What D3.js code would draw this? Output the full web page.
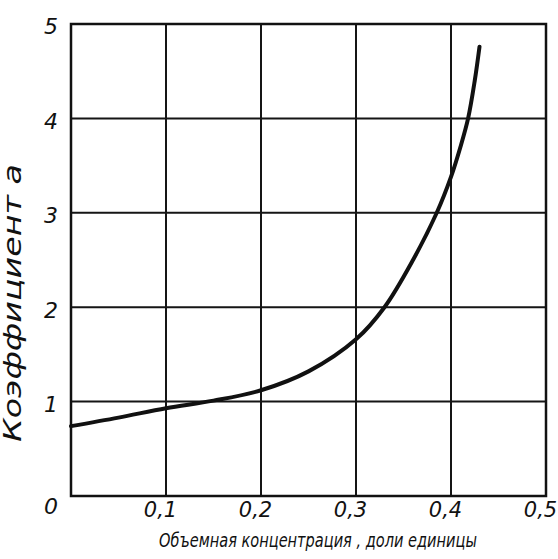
<!DOCTYPE html>
<html>
<head>
<meta charset="utf-8">
<script src="https://cdn.jsdelivr.net/npm/d3@7"></script>
<style>
  body { margin: 0; background: #fff; }
  text { font-family: "DejaVu Sans", sans-serif; font-style: italic; fill: #111; }
</style>
</head>
<body>
<div id="chart"></div>
<script>
// donnees
const conc = [0, 0.05, 0.1, 0.15, 0.2, 0.25, 0.3, 0.33, 0.36, 0.385, 0.4, 0.41, 0.418, 0.425, 0.43];
const coef = [0.74, 0.83, 0.93, 1.01, 1.12, 1.32, 1.66, 2.0, 2.5, 3.0, 3.38, 3.7, 4.0, 4.4, 4.76];
const xTicks = [0.1, 0.2, 0.3, 0.4, 0.5];
const yTicks = [0, 1, 2, 3, 4, 5];

const W = 558, H = 559;
const margin = {top: 24, right: 12, bottom: 63, left: 71};
const width = W - margin.left - margin.right;
const height = H - margin.top - margin.bottom;

const svg = d3.select("#chart").append("svg")
    .attr("width", W).attr("height", H)
  .append("g")
    .attr("transform", `translate(${margin.left},${margin.top})`);

const x = d3.scaleLinear().domain([0, 0.5]).range([0, width]);
const y = d3.scaleLinear().domain([0, 5]).range([height, 0]);

// grille
svg.append("g").selectAll("line")
  .data(xTicks.slice(0, -1))
  .join("line")
    .attr("x1", d => x(d)).attr("x2", d => x(d))
    .attr("y1", 0).attr("y2", height)
    .attr("stroke", "#151515").attr("stroke-width", 2);

svg.append("g").selectAll("line")
  .data(yTicks.slice(1, -1))
  .join("line")
    .attr("x1", 0).attr("x2", width)
    .attr("y1", d => y(d)).attr("y2", d => y(d))
    .attr("stroke", "#151515").attr("stroke-width", 2);

// cadre
svg.append("rect")
    .attr("width", width).attr("height", height)
    .attr("fill", "none").attr("stroke", "#111").attr("stroke-width", 2.5);

// axe x
const xAxis = svg.append("g")
    .attr("transform", `translate(0,${height})`)
    .call(d3.axisBottom(x).tickValues(xTicks).tickSize(0).tickFormat(d => String(d).replace(".", ",")));
xAxis.select(".domain").remove();
xAxis.selectAll("text")
    .attr("font-size", 21).attr("dx", -6).attr("y", 6);

// axe y
const yAxis = svg.append("g")
    .call(d3.axisLeft(y).tickValues(yTicks).tickSize(0).tickFormat(d3.format("d")));
yAxis.select(".domain").remove();
yAxis.selectAll("text")
    .attr("font-size", 22).attr("x", -13)
    .attr("dy", d => d === 0 ? "0.8em" : "0.45em");

// courbe
const line = d3.line()
    .x((d, i) => x(conc[i]))
    .y(d => y(d))
    .curve(d3.curveCatmullRom.alpha(0.5));

svg.append("path")
    .datum(coef)
    .attr("d", line)
    .attr("fill", "none")
    .attr("stroke", "#111")
    .attr("stroke-width", 4)
    .attr("stroke-linecap", "round");

// titres (police etroite simulee par une echelle horizontale)
const xTitle = svg.append("text")
    .attr("text-anchor", "middle")
    .attr("font-size", 20)
    .text("Объемная концентрация , доли единицы");
const kx = 318 / xTitle.node().getComputedTextLength();
xTitle.attr("transform", `translate(247,${height + 51}) scale(${kx},1)`);

const yTitle = svg.append("text")
    .attr("text-anchor", "middle")
    .attr("font-size", 24)
    .text("Коэффициент a");
const ky = 278 / yTitle.node().getComputedTextLength();
yTitle.attr("transform", `translate(-50,${303 - margin.top}) rotate(-90) scale(${ky},1)`);
</script>
</body>
</html>
